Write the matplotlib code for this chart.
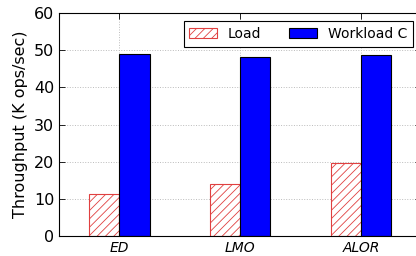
import numpy as np
import matplotlib
matplotlib.use('Agg')
import matplotlib.pyplot as plt

categories = ['ED', 'LMO', 'ALOR']
load = [11.4, 14.0, 19.6]
workload_c = [49.0, 48.2, 48.7]

plt.rcParams['hatch.linewidth'] = 0.6
plt.rcParams['font.size'] = 10

fig = plt.figure(figsize=(4.16, 2.56), dpi=100)
ax = fig.add_axes([0.142, 0.078, 0.871, 0.871])

x = np.arange(len(categories))
w = 0.25
ax.bar(x - w / 2, load, w, color='white', edgecolor='#e04040', hatch='////',
       linewidth=0.8, label='Load', zorder=2)
ax.bar(x + w / 2, workload_c, w, color='#0000ff', edgecolor='black',
       linewidth=0.8, label='Workload C', zorder=2)

ax.set_xlim(-0.5, 2.5)
ax.set_ylim(0, 60)
ax.set_yticks(range(0, 61, 10))
ax.set_xticks(x)
ax.set_xticklabels(categories, style='italic', fontsize=10)
ax.tick_params(axis='y', labelsize=11.5)
ax.tick_params(direction='in', top=True, right=True, length=4, width=0.6)
ax.set_ylabel('Throughput (K ops/sec)', fontsize=11.5)
ax.grid(True, linestyle=':', color='#bbbbbb', linewidth=0.7, zorder=0)
ax.set_axisbelow(True)
for s in ax.spines.values():
    s.set_linewidth(0.8)

leg = ax.legend(loc='upper right', ncol=2, fancybox=False, framealpha=1,
                edgecolor='black', fontsize=10, borderaxespad=0.6,
                columnspacing=2.0)
leg.get_frame().set_linewidth(0.8)

fig.savefig('out.png', dpi=100)
